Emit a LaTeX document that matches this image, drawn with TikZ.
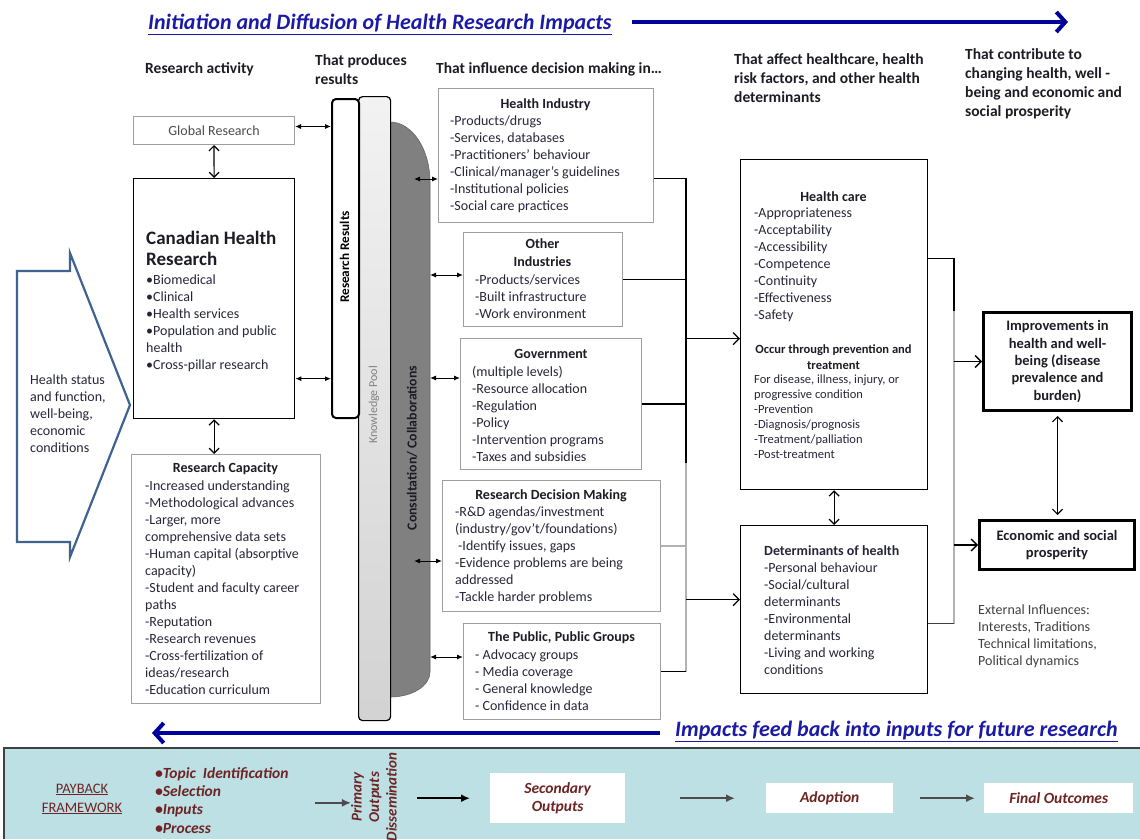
\documentclass[tikz,border=0pt]{standalone}
\usepackage{fontspec}
\setmainfont{Carlito}
\usetikzlibrary{arrows.meta,positioning,calc}

\definecolor{titleblue}{HTML}{1A1AA6}
\definecolor{navy}{HTML}{00009A}
\definecolor{inktext}{HTML}{262638}
\definecolor{headtext}{HTML}{1C1C24}
\definecolor{steelblue}{HTML}{40628E}
\definecolor{bandcyan}{HTML}{BCE0E4}
\definecolor{paybackred}{HTML}{6E2424}
\definecolor{consgray}{HTML}{808080}

\tikzset{
  every node/.style={inner sep=0pt},
  banner/.style={font=\bfseries\itshape\fontsize{22}{24}\selectfont, text=titleblue},
  bigarrow/.style={navy, line width=4pt, -{Straight Barb[length=9pt,width=20pt]}},
  head/.style={font=\bfseries\fontsize{15.5}{19}\selectfont, text=headtext, align=left,
    anchor=north west, yshift=-2.5pt, execute at begin node=\strut},
  body/.style={font=\fontsize{14}{17}\selectfont, text=inktext, align=left,
    anchor=north west, yshift=-3pt, execute at begin node=\strut},
  small/.style={font=\fontsize{12.5}{15}\selectfont, text=inktext, align=left,
    anchor=north west, yshift=-2pt, execute at begin node=\strut},
  boxtitle/.style={font=\bfseries\fontsize{14}{18}\selectfont, text=headtext, align=center,
    anchor=north, execute at begin node=\strut},
  softbox/.style={draw=gray!75, line width=1pt, anchor=north west},
  hardbox/.style={draw=black, line width=1.3pt, anchor=north west},
  outbox/.style={draw=black, line width=3pt, anchor=north west, align=center,
    font=\bfseries\fontsize{14.5}{17.3}\selectfont, text=headtext},
  link/.style={line width=1.2pt},
  dbl/.style={{Latex[length=6pt,width=5pt]}-{Latex[length=6pt,width=5pt]}, line width=1pt},
  vdbl/.style={{Straight Barb[length=5pt,width=10pt]}-{Straight Barb[length=5pt,width=10pt]}, line width=1.2pt},
  openarr/.style={-{Straight Barb[length=6pt,width=12pt]}, line width=1.3pt},
  bandarr/.style={-{Latex[length=9pt,width=8pt]}, line width=2pt, black!70},
  bandtext/.style={font=\bfseries\itshape\fontsize{15.5}{18.3}\selectfont, text=paybackred},
  bandbox/.style={fill=white, anchor=north west, align=center, bandtext}
}

\begin{document}
\begin{tikzpicture}[x={(1pt,0pt)},y={(0pt,-1pt)}, line join=miter]
  \useasboundingbox (0,0) rectangle (1140,839);

  % title and its arrow
  \node[banner, anchor=base west] (title) at (148,29) {\underline{Initiation and Diffusion of Health Research Impacts}};
  \coordinate (titlefrom) at (632,22);
  \coordinate (titletip) at (1068,22);
  \draw[bigarrow] (titlefrom) -- (titletip);

  % column headings
  \node[head] (rachead) at (145,57) {Research activity};
  \node[head] (prodhead) at (315,52) {That produces\\results};
  \node[head] (inflhead) at (436,57) {That influence decision making in…};
  \node[head] (affhead) at (734,51) {That affect healthcare, health\\risk factors, and other health\\determinants};
  \node[head] (conthead) at (965,46) {That contribute to\\changing health, well -\\being and economic and\\social prosperity};

  % left input arrow
  \draw[steelblue, line width=2.2pt] (17,271) -- (70,271) -- (70,253) -- (130,405)
    -- (70,557) -- (70,542) -- (17,542) -- cycle;
  \node[body] (hstatus) at (30,372) {Health status\\and function,\\well-being,\\economic\\conditions};

  % research activity
  \node[softbox, minimum width=161, minimum height=28, font=\fontsize{14}{16}\selectfont,
    text=black!70] (glob) at (133,116) {Global Research};
  \node[hardbox, minimum width=161, minimum height=240] (chr) at (133,178) {};
  \node[font=\bfseries\fontsize{19}{21}\selectfont, text=headtext, align=left, anchor=north west,
    execute at begin node=\strut] (chrtitle) at (146,231) {Canadian Health\\Research};
  \node[body] (chritems) at (146,272) {•Biomedical\\•Clinical\\•Health services\\•Population and public\\health\\•Cross-pillar research};
  \node[softbox, minimum width=189, minimum height=249] (rcap) at (131,454) {};
  \node[boxtitle] (rcaptitle) at (225.5,460) {Research Capacity};
  \node[body] (rcapitems) at (145,478) {-Increased understanding\\-Methodological advances\\-Larger, more\\comprehensive data sets\\-Human capital (absorptive\\capacity)\\-Student and faculty career\\paths\\-Reputation\\-Research revenues\\-Cross-fertilization of\\ideas/research\\-Education curriculum};
  \draw[vdbl] (glob.south) -- (chr.north);
  \draw[vdbl] (chr.south) -- (chr.south |- rcap.north);

  % pillars
  \fill[consgray, draw=black!60, line width=0.6pt] (390,122) .. controls (412,122) and (430,149) .. (430,182)
    -- (430,672) .. controls (430,686) and (412,697) .. (390,697) -- cycle;
  \node[rotate=90, font=\bfseries\fontsize{13.8}{16}\selectfont, text=headtext] (constext) at (412,448) {Consultation/ Collaborations};
  \node[draw=black, line width=1.2pt, rounded corners=4pt, top color=gray!10, bottom color=gray!35,
    minimum width=32, minimum height=624, anchor=north west] (pool) at (358,96) {};
  \node[rotate=90, font=\fontsize{12}{14}\selectfont, text=gray] (pooltext) at (374,405) {Knowledge Pool};
  \node[draw=black, line width=2pt, rounded corners=4pt, fill=white,
    minimum width=27, minimum height=319, anchor=north west] (rres) at (331,98) {};
  \node[rotate=90, font=\bfseries\fontsize{13.2}{15}\selectfont] (rrestext) at (344.5,257) {Research Results};
  \coordinate (globport) at ($(glob.east)+(0,-4)$);
  \coordinate (chrport) at ($(chr.east)+(0,80)$);
  \draw[dbl] (globport) -- (globport -| rres.west);
  \draw[dbl] (chrport) -- (chrport -| rres.west);

  % sectors influenced
  \node[softbox, minimum width=215, minimum height=134] (hind) at (438,88) {};
  \node[boxtitle] (hindtitle) at (545.5,96) {Health Industry};
  \node[body] (hinditems) at (450,113) {-Products/drugs\\-Services, databases\\-Practitioners’ behaviour\\-Clinical/manager’s guidelines\\-Institutional policies\\-Social care practices};

  \node[softbox, minimum width=159, minimum height=94] (oind) at (463,232) {};
  \node[boxtitle] (oindtitle) at (542.5,238) {Other\\Industries};
  \node[body] (oinditems) at (475,272) {-Products/services\\-Built infrastructure\\-Work environment};

  \node[softbox, minimum width=181, minimum height=131] (govt) at (460,338) {};
  \node[boxtitle] (govttitle) at (551,346) {Government};
  \node[body] (govtitems) at (472,363) {(multiple levels)\\-Resource allocation\\-Regulation\\-Policy\\-Intervention programs\\-Taxes and subsidies};

  \node[softbox, minimum width=218, minimum height=131] (rdm) at (442,480) {};
  \node[boxtitle] (rdmtitle) at (551,487) {Research Decision Making};
  \node[body] (rdmitems) at (455,504) {-R\&D agendas/investment\\(industry/gov’t/foundations)\\\hspace{3pt}-Identify issues, gaps\\-Evidence problems are being\\addressed\\-Tackle harder problems};

  \node[softbox, minimum width=197, minimum height=96] (publ) at (463,623) {};
  \node[boxtitle] (publtitle) at (561.5,629) {The Public, Public Groups};
  \node[body] (publitems) at (475,647) {- Advocacy groups\\- Media coverage\\- General knowledge\\- Confidence in data};

  \coordinate (c1) at (414,179);
  \coordinate (c2) at (430,275);
  \coordinate (c3) at (430,378);
  \coordinate (c4) at (414,561);
  \coordinate (c5) at (430,657);
  \draw[dbl] (c1) -- (c1 -| hind.west);
  \draw[dbl] (c2) -- (c2 -| oind.west);
  \draw[dbl] (c3) -- (c3 -| govt.west);
  \draw[dbl] (c4) -- (c4 -| rdm.west);
  \draw[dbl] (c5) -- (c5 -| publ.west);

  % collecting line
  \coordinate (bus) at (686,0);
  \coordinate (busmid) at (686,463);
  \coordinate (hport) at ($(hind.east)+(0,23)$);
  \draw[link] (hport) -- (hport -| bus) -- (busmid);
  \draw[link, gray!60] (busmid) -- (publ.east -| bus);
  \draw[link] (oind.east) -- (oind.east -| bus);
  \draw[link] (govt.east) -- (govt.east -| bus);
  \draw[link, gray!60] (rdm.east) -- (rdm.east -| bus);
  \draw[link] (publ.east) -- (publ.east -| bus);

  % health care and determinants
  \node[hardbox, minimum width=187, minimum height=330] (hcare) at (740,159) {};
  \node[boxtitle] (hcaretitle) at (833.5,189) {Health care};
  \node[body] (hcareitems) at (754,205) {-Appropriateness\\-Acceptability\\-Accessibility\\-Competence\\-Continuity\\-Effectiveness\\-Safety};
  \node[boxtitle, font=\bfseries\fontsize{12.5}{16}\selectfont] (occur) at (833.5,345) {Occur through prevention and\\treatment};
  \node[small] (occuritems) at (754,373) {For disease, illness, injury, or\\progressive condition\\-Prevention\\-Diagnosis/prognosis\\-Treatment/palliation\\-Post-treatment};

  \node[hardbox, minimum width=187, minimum height=168] (dets) at (740,525) {};
  \node[body] (detsitems) at (764,542) {\textbf{Determinants of health}\\-Personal behaviour\\-Social/cultural\\determinants\\-Environmental\\determinants\\-Living and working\\conditions};
  \draw[vdbl] (hcare.south) -- (dets.north);

  \coordinate (hcin) at ($(hcare.west)+(0,14)$);
  \coordinate (dtin) at ($(dets.west)+(0,-10)$);
  \draw[openarr] (hcin -| bus) -- (hcin);
  \draw[openarr] (dtin -| bus) -- (dtin);

  % outcomes
  \node[outbox, minimum width=148, minimum height=98] (imp) at (982,311) {Improvements in\\health and well-\\being (disease\\prevalence and\\burden)};
  \node[outbox, minimum width=155, minimum height=49] (econ) at (978,519) {Economic and social\\prosperity};
  \draw[vdbl, shorten <=4pt, shorten >=4pt] (imp.south) -- (imp.south |- econ.north);

  \coordinate (rbus) at (954,0);
  \coordinate (hcout) at ($(hcare.east)+(0,-66)$);
  \coordinate (dtout) at ($(dets.east)+(0,14)$);
  \draw[link] (hcout) -- (hcout -| rbus) -- (rbus |- imp.north);
  \draw[link, gray!60] (rbus |- imp.north) -- (dtout -| rbus);
  \draw[link, black!75] (dtout -| rbus) -- (dtout);
  \draw[openarr] (imp.west -| rbus) -- (imp.west);
  \draw[openarr] (econ.west -| rbus) -- (econ.west);

  \node[body, text=black!75] (extinf) at (978,602) {External Influences:\\Interests, Traditions\\Technical limitations,\\Political dynamics};

  % feedback arrow
  \node[banner, anchor=base west] (fbtext) at (675,736) {\underline{Impacts feed back into inputs for future research}};
  \coordinate (fbfrom) at (660,733);
  \coordinate (fbtip) at (152,733);
  \draw[bigarrow] (fbfrom) -- (fbtip);

  % payback band
  \fill[bandcyan] (4,748) rectangle (1140,839);
  \draw[line width=2pt, black!75] (4,839) -- (4,748) -- (1140,748);
  \node[font=\fontsize{14.5}{19}\selectfont, text=paybackred, align=center] (payback) at (82,799) {\underline{PAYBACK}\\\underline{FRAMEWORK}};
  \node[bandtext, align=left, anchor=north west, execute at begin node=\strut] (payin) at (155,767) {•Topic~~Identification\\•Selection\\•Inputs\\•Process};
  \node[rotate=90, bandtext, font=\bfseries\itshape\fontsize{15}{17.5}\selectfont, align=center] (primout) at (374,797) {Primary\\Outputs\\Dissemination};
  \node[bandbox, minimum width=135, minimum height=50] (secout) at (490,773) {Secondary\\Outputs};
  \node[bandbox, minimum width=127, minimum height=30] (adopt) at (766,783) {Adoption};
  \node[bandbox, minimum width=149, minimum height=30] (final) at (984,783) {Final Outcomes};
  \draw[bandarr, shorten <=26pt] (payin.east) -- (payin.east -| primout.north);
  \draw[bandarr, black, shorten <=20pt, shorten >=20pt] (primout.south |- secout.west) -- (secout.west);
  \draw[bandarr, shorten <=55pt, shorten >=31pt] (secout.east |- adopt.west) -- (adopt.west);
  \draw[bandarr, shorten <=27pt, shorten >=9pt] (adopt.east) -- (final.west);
\end{tikzpicture}
\end{document}
